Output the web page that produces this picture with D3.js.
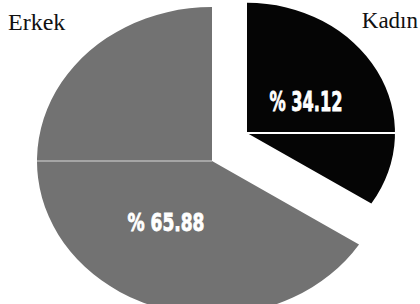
<!DOCTYPE html>
<html>
<head>
<meta charset="utf-8">
<script src="https://cdn.jsdelivr.net/npm/d3@7"></script>
<style>
  html, body { margin: 0; padding: 0; background: #fff; }
  svg { display: block; }
</style>
</head>
<body>
<svg id="chart"></svg>
<script>
// data
const categories = ["Kadın", "Erkek"]
const values = [34.12, 65.88]
const valueLabels = ["% 34.12", "% 65.88"]

const width = 420
const height = 304

// how each slice is drawn (black one is pulled out and smaller, like the scan)
const sliceStyle = [
  {cx: 247, cy: 133, r: 148, fill: "#050505", line: "#ffffff", lineDir: 1,
   lab: [306, 111], labW: 73, labSize: 27, name: [418, 28], anchor: "end", nameSize: 23},
  {cx: 212, cy: 161, r: 175, fill: "#727272", line: "#d8d8d8", lineDir: -1,
   lab: [166, 231], labW: 77, labSize: 25, name: [8, 30], anchor: "start", nameSize: 24}
]
const squash = 0.88

const svg = d3.select("svg#chart")
  .attr("width", width)
  .attr("height", height)

const pie = d3.pie().sort(null).value(d => d)
const arcs = pie(values)

arcs.forEach((a, i) => {
  const s = sliceStyle[i]
  const arc = d3.arc().innerRadius(0).outerRadius(s.r)

  const g = svg.append("g")
    .attr("transform", `translate(${s.cx},${s.cy}) scale(1,${squash})`)

  g.append("path")
    .attr("d", arc(a))
    .attr("fill", s.fill)

  // thin white radial line seen in the print
  g.append("line")
    .attr("x1", 0).attr("y1", 0)
    .attr("x2", s.lineDir * s.r).attr("y2", 0)
    .attr("stroke", s.line)
    .attr("stroke-width", i == 0 ? 2 : 1.2)

  svg.append("text")
    .attr("x", s.lab[0])
    .attr("y", s.lab[1])
    .attr("text-anchor", "middle")
    .attr("textLength", s.labW)
    .attr("lengthAdjust", "spacingAndGlyphs")
    .style("font-family", "'DejaVu Sans Condensed', 'DejaVu Sans', sans-serif")
    .style("font-weight", "bold")
    .style("font-size", s.labSize + "px")
    .attr("fill", "#fff")
    .attr("stroke", "#fff")
    .attr("stroke-width", 0.8)
    .text(valueLabels[i])

  svg.append("text")
    .attr("x", s.name[0])
    .attr("y", s.name[1])
    .attr("text-anchor", s.anchor)
    .style("font-family", "'Liberation Serif', 'Times New Roman', serif")
    .style("font-size", s.nameSize + "px")
    .attr("fill", "#111")
    .text(categories[i])
})
</script>
</body>
</html>
